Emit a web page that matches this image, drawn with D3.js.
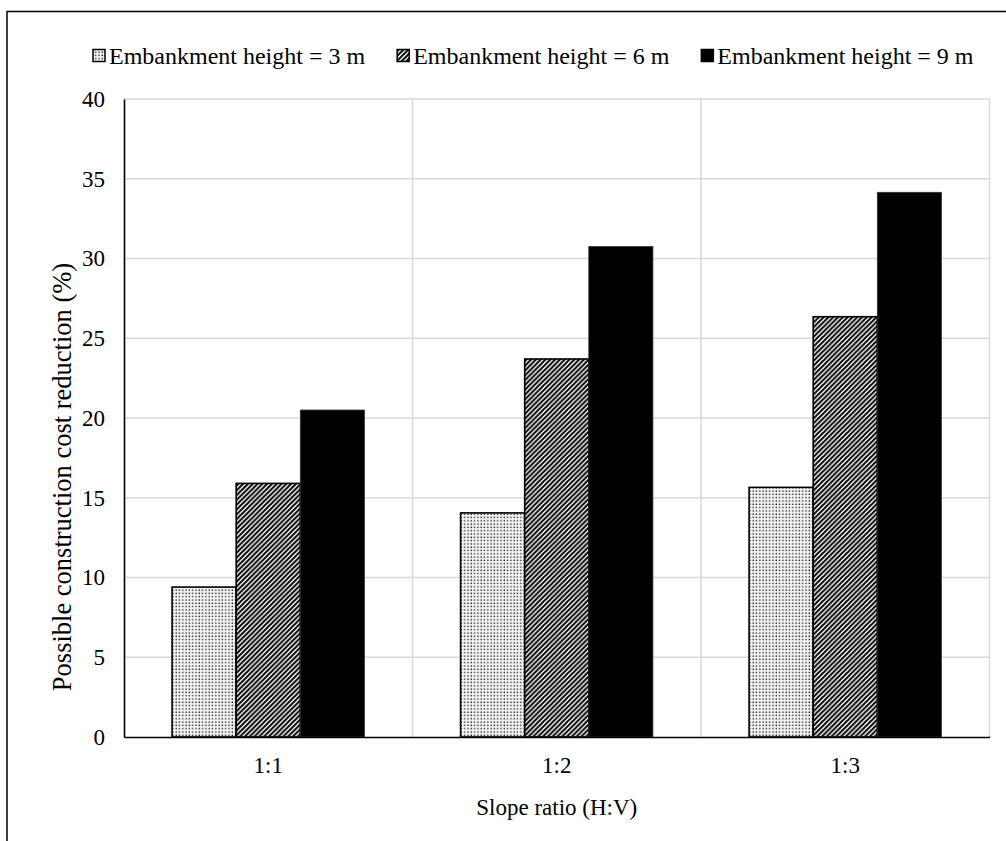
<!DOCTYPE html>
<html>
<head>
<meta charset="utf-8">
<script src="https://cdn.jsdelivr.net/npm/d3@7"></script>
<style>
  html, body { margin: 0; padding: 0; background: #fff; }
  svg { display: block; }
</style>
</head>
<body>
<svg id="chart" width="1006" height="841"></svg>
<script>
// Slope ratios along the x axis
const slopeRatios = ["1:1", "1:2", "1:3"];
// Series names (embankment heights)
const seriesNames = ["Embankment height = 3 m", "Embankment height = 6 m", "Embankment height = 9 m"];
// Possible construction cost reduction (%) per slope ratio
const height3m = [9.4, 14.05, 15.65];
const height6m = [15.9, 23.7, 26.35];
const height9m = [20.5, 30.75, 34.15];
// Y axis ticks
const yTicks = [0, 5, 10, 15, 20, 25, 30, 35, 40];

const seriesValues = [height3m, height6m, height9m];
const seriesFills = ["url(#dots)", "url(#hatch)", "#000"];
const FONT = "'Liberation Serif', 'Times New Roman', serif";

const svg = d3.select("#chart");
const W = 1006, H = 841;
const margin = { left: 124, right: 16.5, top: 99, bottom: 104 };
const innerW = W - margin.left - margin.right;
const innerH = H - margin.top - margin.bottom;

// Fill patterns
const defs = svg.append("defs");
const dots = defs.append("pattern")
  .attr("id", "dots").attr("patternUnits", "userSpaceOnUse")
  .attr("width", 3.3).attr("height", 3.3);
dots.append("rect").attr("width", 3.3).attr("height", 3.3).attr("fill", "#e6e6e6");
dots.append("rect").attr("x", 0.4).attr("y", 0.4).attr("width", 1.6).attr("height", 1.6).attr("fill", "#fff");
dots.append("rect").attr("x", 2.1).attr("y", 2.1).attr("width", 1.2).attr("height", 1.2).attr("fill", "#111");

const hatch = defs.append("pattern")
  .attr("id", "hatch").attr("patternUnits", "userSpaceOnUse")
  .attr("width", 4.8).attr("height", 4.8);
hatch.append("rect").attr("width", 4.8).attr("height", 4.8).attr("fill", "#fff");
hatch.append("path")
  .attr("d", "M-1.2,6 L6,-1.2 M-3.6,3.6 L3.6,-3.6 M1.2,8.4 L8.4,1.2")
  .attr("stroke", "#000").attr("stroke-width", 1.9);

// Outer frame (top and left edges visible)
svg.append("path")
  .attr("d", `M7,${H} L7,11.5 L${W},11.5`)
  .attr("fill", "none").attr("stroke", "#000").attr("stroke-width", 1.5);

const g = svg.append("g").attr("transform", `translate(${margin.left},${margin.top})`);

// Scales
const x0 = d3.scaleBand().domain(slopeRatios).range([0, innerW]).paddingInner(0).paddingOuter(0);
const x1 = d3.scaleBand().domain(d3.range(seriesNames.length)).range([0, x0.bandwidth()])
  .paddingInner(0).paddingOuter(0.75);
const y = d3.scaleLinear().domain([0, 40]).range([innerH, 0]);

// Horizontal gridlines
g.append("g").selectAll("line").data(yTicks.filter(d => d > 0)).join("line")
  .attr("x1", 0).attr("x2", innerW)
  .attr("y1", d => y(d)).attr("y2", d => y(d))
  .attr("stroke", "#d9d9d9").attr("stroke-width", 1.5);

// Vertical gridlines at category boundaries
g.append("g").selectAll("line").data(slopeRatios).join("line")
  .attr("x1", d => x0(d) + x0.bandwidth()).attr("x2", d => x0(d) + x0.bandwidth())
  .attr("y1", y(40)).attr("y2", y(0))
  .attr("stroke", "#d9d9d9").attr("stroke-width", 1.5);

// Bars
const groups = g.append("g").selectAll("g").data(slopeRatios).join("g")
  .attr("transform", d => `translate(${x0(d)},0)`);
groups.selectAll("rect")
  .data((d, i) => seriesValues.map((vals, s) => ({ s, v: vals[i] })))
  .join("rect")
  .attr("x", d => x1(d.s))
  .attr("width", x1.bandwidth())
  .attr("y", d => y(d.v))
  .attr("height", d => y(0) - y(d.v))
  .attr("fill", d => seriesFills[d.s])
  .attr("stroke", d => d.s === 2 ? "#333" : "#000")
  .attr("stroke-width", d => d.s === 2 ? 0.8 : 1.6);

// Y axis
const yAxis = g.append("g").call(d3.axisLeft(y).tickValues(yTicks).tickSize(0).tickPadding(19));
yAxis.attr("font-family", FONT).attr("font-size", 23);
yAxis.select(".domain").attr("stroke", "#000").attr("stroke-width", 1.6);
yAxis.selectAll("text").attr("fill", "#000");

// X axis
const xAxis = g.append("g").attr("transform", `translate(0,${innerH})`)
  .call(d3.axisBottom(x0).tickSize(0).tickPadding(20));
xAxis.attr("font-family", FONT).attr("font-size", 23);
xAxis.select(".domain").attr("stroke", "#000").attr("stroke-width", 1.6);
xAxis.selectAll("text").attr("fill", "#000");

// Axis titles
svg.append("text")
  .attr("x", margin.left + innerW / 2).attr("y", 815)
  .attr("text-anchor", "middle")
  .attr("font-family", FONT).attr("font-size", 23)
  .text("Slope ratio (H:V)");
svg.append("text")
  .attr("transform", "translate(71,477) rotate(-90)")
  .attr("text-anchor", "middle")
  .attr("font-family", FONT).attr("font-size", 26.5)
  .text("Possible construction cost reduction (%)");

// Legend
const legend = svg.append("g").attr("transform", "translate(93,56)");
let lx = 0;
seriesNames.forEach((name, s) => {
  const item = legend.append("g").attr("transform", `translate(${lx},0)`);
  item.append("rect").attr("x", 0).attr("y", -6.5).attr("width", 12).attr("height", 12)
    .attr("fill", seriesFills[s]).attr("stroke", "#000").attr("stroke-width", 1.5);
  const t = item.append("text").attr("x", 16).attr("y", 8)
    .attr("font-family", FONT).attr("font-size", 24)
    .text(name);
  lx += 16 + t.node().getComputedTextLength() + 32;
});
</script>
</body>
</html>
